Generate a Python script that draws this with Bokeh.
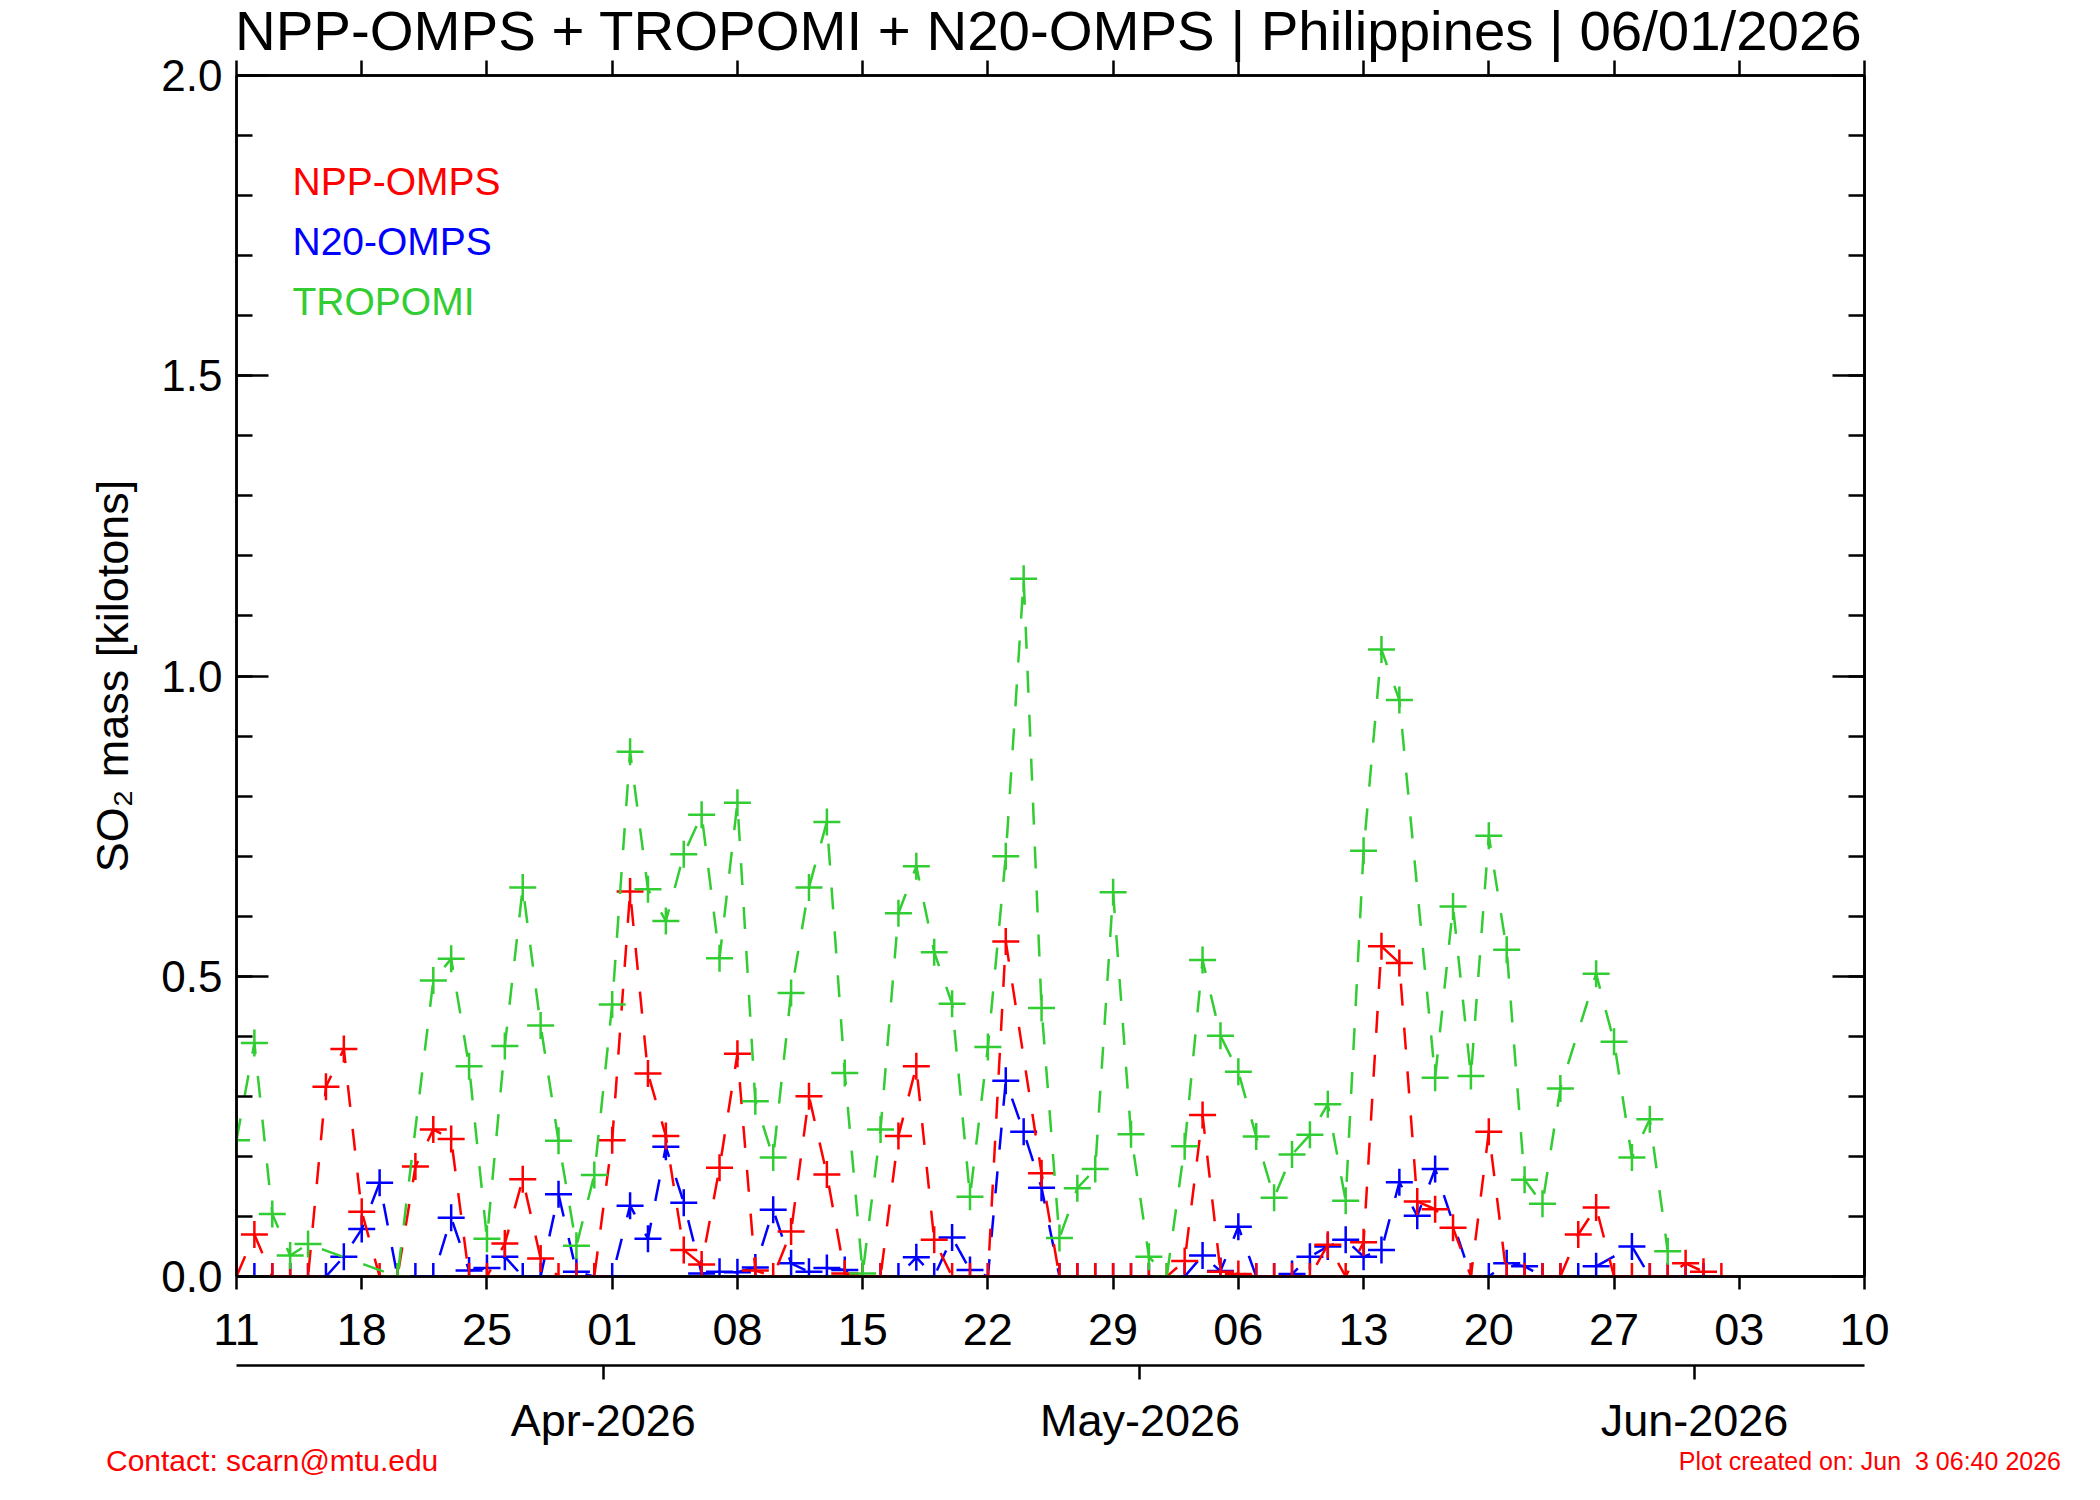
import numpy as np
import pandas as pd
from bokeh.plotting import figure
from bokeh.layouts import column
from bokeh.models import (Range1d, LinearAxis, FixedTicker, SingleIntervalTicker,
                          PrintfTickFormatter, Label, Div)
from bokeh.embed import file_html
from bokeh.resources import INLINE

# ---------------- data (daily values from 2026-03-11; None = no observation) -------------
START = "2026-03-11"
END = "2026-06-10"

npp_omps = [0.0, 0.07, 0.0, 0.0, 0.0, 0.316, 0.379, 0.108, 0.0, 0.0,
            0.183, 0.245, 0.229, 0.0, 0.0, 0.055, 0.162, 0.03, 0.0, 0.0,
            0.0, 0.227, 0.641, 0.338, 0.234, 0.044, 0.02, 0.181, 0.371, 0.01,
            0.0, 0.075, 0.30, 0.17, 0.005, 0.0, 0.0, 0.234, 0.35, 0.061,
            0.0, 0.0, 0.0, 0.558, None, 0.172, 0.0, 0.0, 0.0, 0.0,
            0.0, 0.0, 0.0, 0.026, 0.269, 0.008, 0.004, 0.0, 0.0, 0.0,
            0.0, 0.053, 0.0, 0.057, 0.55, 0.522, 0.125, 0.112, 0.081, 0.0,
            0.241, 0.0, 0.0, 0.0, 0.0, 0.07, 0.115, 0.0, 0.0, 0.0,
            0.0, 0.022, 0.008, 0.0]

n20_omps = [0.0, 0.0, 0.0, 0.0, 0.0, 0.0, 0.033, 0.079, 0.156, 0.0,
            0.0, 0.0, 0.098, 0.01, 0.014, 0.033, 0.0, 0.0, 0.137, 0.008,
            0.0, 0.0, 0.118, 0.063, 0.216, 0.123, 0.005, 0.008, 0.007, 0.015,
            0.111, 0.022, 0.008, 0.014, 0.011, 0.0, 0.0, 0.0, 0.032, 0.0,
            0.065, 0.011, 0.0, 0.326, 0.241, 0.148, 0.0, 0.0, 0.0, 0.0,
            0.0, 0.0, None, 0.0, 0.035, 0.009, 0.083, 0.0, 0.0, 0.004,
            0.033, 0.05, 0.061, 0.033, 0.044, 0.157, 0.101, 0.179, None, 0.0,
            0.0, 0.022, 0.017, 0.0, 0.0, 0.0, 0.017, None, 0.05, 0.0,
            0.0, 0.0, 0.0]

tropomi = [0.227, 0.389, 0.104, 0.035, 0.054, None, None, None, None, 0.0,
           None, 0.493, 0.529, 0.35, 0.063, 0.384, 0.648, 0.418, 0.226, 0.051,
           0.169, 0.453, 0.874, 0.645, 0.592, 0.703, 0.769, 0.53, 0.789, 0.292,
           0.198, 0.472, 0.648, 0.757, 0.339, 0.005, 0.245, 0.605, 0.683, 0.54,
           0.454, 0.133, 0.382, 0.70, 1.162, 0.447, 0.064, 0.147, 0.179, 0.64,
           0.237, 0.033, 0.0, 0.217, 0.527, 0.401, 0.341, 0.233, 0.131, 0.203,
           0.236, 0.287, 0.126, 0.709, 1.044, 0.96, None, 0.331, 0.616, 0.334,
           0.734, 0.544, 0.161, 0.121, 0.313, None, 0.504, 0.391, 0.198, 0.262,
           0.042]

week_dates = pd.date_range(START, END, freq="7D")
week_labels = ["11", "18", "25", "01", "08", "15", "22", "29", "06", "13",
               "20", "27", "03", "10"]
month_dates = ["2026-04-01", "2026-05-01", "2026-06-01"]
month_labels = ["Apr-2026", "May-2026", "Jun-2026"]

series_names = ["NPP-OMPS", "N20-OMPS", "TROPOMI"]
series_colors = {"NPP-OMPS": "#FF0000", "N20-OMPS": "#0000FF", "TROPOMI": "#32CD32"}

TITLE = "NPP-OMPS + TROPOMI + N20-OMPS | Philippines | 06/01/2026"
CONTACT = "Contact: scarn@mtu.edu"
CREATED = "Plot created on: Jun  3 06:40 2026"

# ---------------- helpers ----------------
t0 = pd.Timestamp(START)


def day_index(d):
    return (pd.Timestamp(d) - t0) / pd.Timedelta(days=1)


def valid(vals):
    xs = [i for i, v in enumerate(vals) if v is not None]
    ys = [v for v in vals if v is not None]
    return xs, ys


x_end = day_index(END)
week_ticks = [day_index(d) for d in week_dates]
month_ticks = [day_index(d) - 0.5 for d in month_dates]
y_minor = [round(v, 1) for v in np.arange(0, 2.001, 0.1)]
y_major = [round(v, 1) for v in np.arange(0, 2.001, 0.5)]

FONT = "Liberation Sans"
LW = 2.5
W = 2100
HEAD_H = 40
FOOT_H = 54
MAIN_H = 1500 - HEAD_H - FOOT_H

FL, FR, FT, FB = 236, 1864, 75, 1276   # frame edges (page px)

p = figure(frame_width=FR - FL, frame_height=FB - FT, title=None,
           x_range=Range1d(0, x_end), y_range=Range1d(0, 2.0),
           output_backend="svg", toolbar_location=None,
           x_axis_location=None, y_axis_location=None,
           min_border_left=FL, min_border_right=W - FR,
           min_border_top=FT - HEAD_H,
           min_border_bottom=HEAD_H + MAIN_H - FB)
p.grid.visible = False
p.background_fill_color = "white"
p.border_fill_color = None
p.outline_line_color = "black"
p.outline_line_width = LW


def style_axis(ax):
    ax.axis_line_color = "black"
    ax.axis_line_width = LW
    ax.major_tick_line_color = "black"
    ax.major_tick_line_width = LW
    ax.minor_tick_line_color = "black"
    ax.minor_tick_line_width = LW
    ax.major_label_text_font = FONT
    ax.major_label_text_color = "black"
    ax.axis_label_text_font = FONT
    ax.axis_label_text_font_style = "normal"
    ax.axis_label_text_color = "black"


# left y axis
yl = LinearAxis(ticker=SingleIntervalTicker(interval=0.5, num_minor_ticks=5),
                formatter=PrintfTickFormatter(format="%.1f"),
                axis_label="SO\u2082 mass [kilotons]")
style_axis(yl)
yl.major_tick_in = 32
yl.major_tick_out = 0
yl.minor_tick_in = 16
yl.minor_tick_out = 0
yl.major_label_standoff = 14
yl.major_label_text_font_size = "44px"
yl.axis_label_text_font_size = "45px"
yl.axis_label_standoff = 20
p.add_layout(yl, "left")

# right y axis: ticks only (minor-tick lists carry no labels)
yr1 = LinearAxis(ticker=FixedTicker(ticks=[], minor_ticks=y_minor))
style_axis(yr1)
yr1.major_tick_in = 0
yr1.major_tick_out = 0
yr1.minor_tick_in = 16
yr1.minor_tick_out = 0
p.add_layout(yr1, "right")
yr2 = LinearAxis(ticker=FixedTicker(ticks=[], minor_ticks=y_major))
style_axis(yr2)
yr2.major_tick_in = 0
yr2.major_tick_out = 0
yr2.minor_tick_in = 32
yr2.minor_tick_out = 0
p.add_layout(yr2, "right")

# top axis (weekly ticks, outward, no labels)
xt = LinearAxis(ticker=FixedTicker(ticks=[], minor_ticks=week_ticks))
style_axis(xt)
xt.major_tick_in = 0
xt.major_tick_out = 15
xt.minor_tick_in = 0
xt.minor_tick_out = 15
p.add_layout(xt, "above")

# bottom day axis
xb = LinearAxis(ticker=FixedTicker(ticks=week_ticks, minor_ticks=[]),
                major_label_overrides={t: l for t, l in zip(week_ticks, week_labels)})
style_axis(xb)
xb.major_tick_in = 0
xb.major_tick_out = 13
xb.major_label_standoff = 24
xb.major_label_text_font_size = "45px"
xb.axis_label = "\u00a0"
xb.axis_label_text_font_size = "13px"
xb.axis_label_standoff = 0
p.add_layout(xb, "below")

# bottom month axis
xm = LinearAxis(ticker=FixedTicker(ticks=month_ticks, minor_ticks=[]),
                major_label_overrides={t: l for t, l in zip(month_ticks, month_labels)})
style_axis(xm)
xm.major_tick_in = 0
xm.major_tick_out = 14
xm.major_label_standoff = 15
xm.major_label_text_font_size = "45px"
p.add_layout(xm, "below")

# ---------------- series (drawn N20, NPP, TROPOMI) ----------------
data = {"NPP-OMPS": npp_omps, "N20-OMPS": n20_omps, "TROPOMI": tropomi}
for name in ["N20-OMPS", "NPP-OMPS", "TROPOMI"]:
    xs, ys = valid(data[name])
    c = series_colors[name]
    p.line(xs, ys, line_color=c, line_width=LW, line_dash="22 22")
    p.scatter(xs, ys, marker="cross", size=27, line_color=c, line_width=LW)

# ---------------- legend texts (inside the frame) ----------------
px_per_day = (FR - FL) / x_end
px_per_unit = (FB - FT) / 2.0
BL_SHIFT = 0.37  # em: rendered alphabetic baseline sits this much lower


def leg_x(page_x):
    return (page_x - FL) / px_per_day


def leg_y(page_baseline, fs):
    return (FB - page_baseline + BL_SHIFT * fs) / px_per_unit


for i, name in enumerate(series_names):
    p.add_layout(Label(x=leg_x(292), y=leg_y(195 + 60 * i, 39), text=name,
                       text_font=FONT, text_font_size="39px",
                       text_color=series_colors[name],
                       text_align="left", text_baseline="alphabetic"))


# ---------------- header / footer strips (HTML text, page coordinates) ----------------
def span(text, size, color, side, side_px, baseline, strip_top):
    top = baseline - strip_top - 0.875 * size   # line-height 1 -> baseline offset
    return (f'<span style="position:absolute; {side}:{side_px}px; top:{top:.1f}px; '
            f"font-family:'{FONT}'; font-size:{size}px; line-height:1; color:{color}; "
            f'white-space:pre;">{text}</span>')


def strip(height, spans):
    html = (f'<div style="position:relative; width:{W}px; height:{height}px; '
            f'overflow:visible;">' + "".join(spans) + '</div>')
    return Div(text=html, width=W, height=height, margin=0,
               styles={"overflow": "visible"})


head = strip(HEAD_H, [span(TITLE, 56.4, "#000000", "left", 235, 52, 0)])
foot_top = HEAD_H + MAIN_H
foot = strip(FOOT_H, [span(CONTACT, 30, "#FF0000", "left", 106, 1470, foot_top),
                      span(CREATED, 25, "#FF0000", "right", W - 2061, 1469, foot_top)])

layout = column(head, p, foot, spacing=0)
open("out.html", "w").write(file_html(layout, INLINE))
